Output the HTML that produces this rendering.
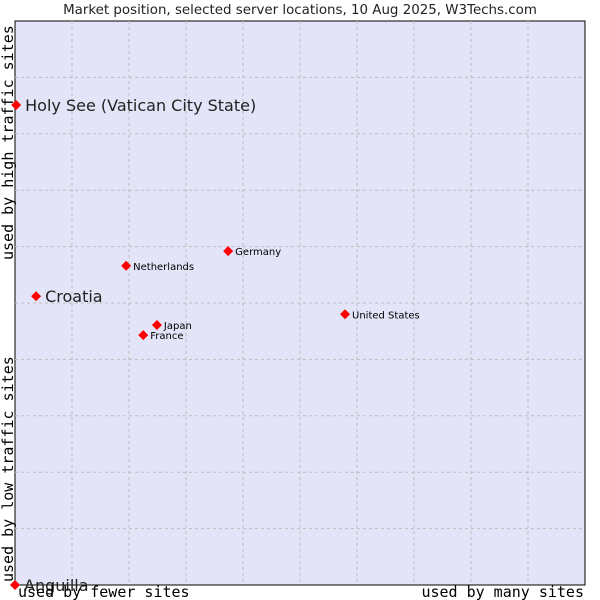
<!DOCTYPE html>
<html><head><meta charset="utf-8"><style>
body{margin:0;background:#fff;width:600px;height:600px;overflow:hidden}
svg{display:block}
</style></head><body>
<svg id="c" width="600" height="600" xmlns="http://www.w3.org/2000/svg">
<text x="300" y="14" text-anchor="middle" font-family="DejaVu Sans, sans-serif" font-size="13.4" fill="#222">Market position, selected server locations, 10 Aug 2025, W3Techs.com</text>
<rect x="15" y="21" width="570" height="564" fill="#e3e4f7" stroke="#000" stroke-width="1"/>
<g id="grid"></g>
<g id="pts"></g>
<text transform="translate(13,260) rotate(-90)" font-family="DejaVu Sans Mono, Liberation Mono, monospace" font-size="15" fill="#000">used by high traffic sites</text>
<text transform="translate(13,582) rotate(-90)" font-family="DejaVu Sans Mono, Liberation Mono, monospace" font-size="15" fill="#000">used by low traffic sites</text>
<text x="18" y="597" font-family="DejaVu Sans Mono, Liberation Mono, monospace" font-size="15" fill="#000">used by fewer sites</text>
<text x="584" y="597" text-anchor="end" font-family="DejaVu Sans Mono, Liberation Mono, monospace" font-size="15" fill="#000">used by many sites</text>
</svg>
<script>
const names=["Holy See (Vatican City State)","Croatia","Netherlands","Germany","Japan","France","United States","Anguilla"];
const xVals=[0.2,3.7,19.5,37.4,24.9,22.5,57.9,0];
const yVals=[85.1,51.2,56.6,59.2,46.1,44.3,48.0,0];
const big=[1,1,0,0,0,0,0,1];
const L=15,T=21,W=570,H=564;
const xs=v=>L+v/100*W, ys=v=>T+H-v/100*H;
const NS="http://www.w3.org/2000/svg";
const g=document.getElementById('grid'),p=document.getElementById('pts');
for(let i=1;i<10;i++){
 const a=document.createElementNS(NS,'line');
 a.setAttribute('x1',xs(i*10));a.setAttribute('x2',xs(i*10));a.setAttribute('y1',T);a.setAttribute('y2',T+H);
 a.setAttribute('stroke','#bdbdbd');a.setAttribute('stroke-dasharray','3,3');
 
 
 g.appendChild(a);
 const b=document.createElementNS(NS,'line');
 b.setAttribute('y1',ys(i*10));b.setAttribute('y2',ys(i*10));b.setAttribute('x1',L);b.setAttribute('x2',L+W);
 b.setAttribute('stroke','#bdbdbd');b.setAttribute('stroke-dasharray','3,3');
 
 
 g.appendChild(b);
}
names.forEach((n,i)=>{
 const x=xs(xVals[i]),y=ys(yVals[i]);
 const d=document.createElementNS(NS,'path');
 d.setAttribute('d',`M${x-5},${y} L${x},${y-5} L${x+5},${y} L${x},${y+5} Z`);
 d.setAttribute('fill','#f00');
 
 
 p.appendChild(d);
 const t=document.createElementNS(NS,'text');
 t.setAttribute('x',x+(big[i]?9:7));t.setAttribute('y',y+(big[i]?6:4));
 t.setAttribute('font-family','DejaVu Sans, sans-serif');
 t.setAttribute('font-size',big[i]?'16':'10');
 t.setAttribute('fill',big[i]?'#222':'#000');
 t.textContent=n;
 
 
 p.appendChild(t);
});
</script>
</body></html>
